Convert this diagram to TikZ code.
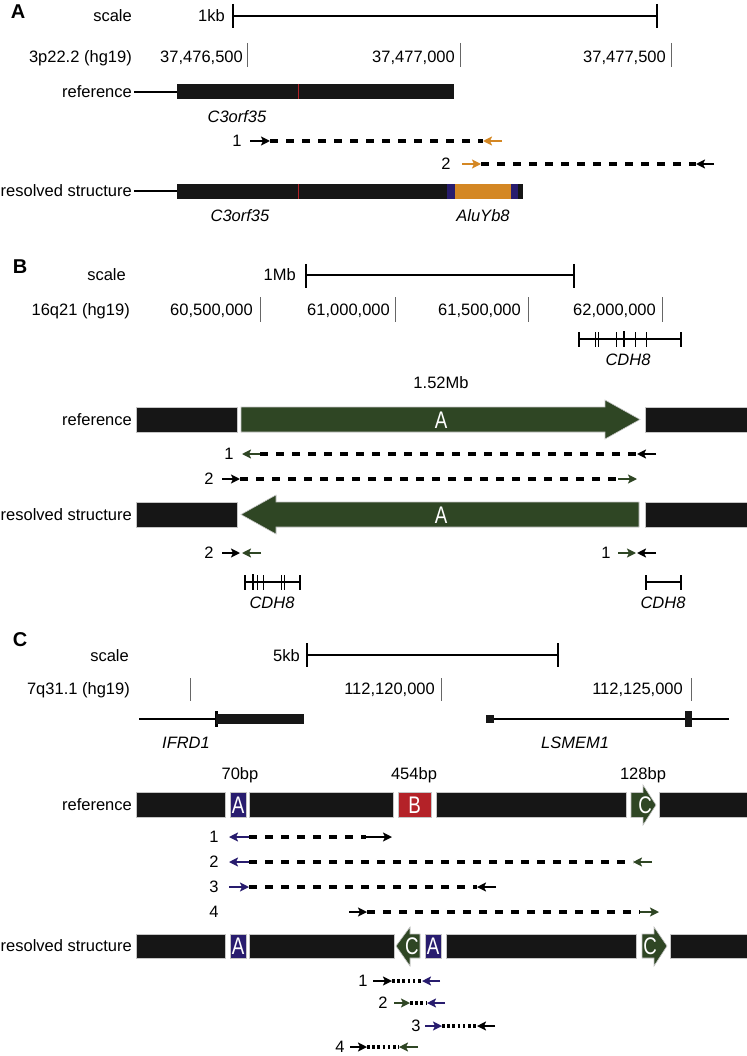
\documentclass[tikz,border=0pt]{standalone}
\usepackage{fontspec}
\usepackage{graphicx}
\setmainfont{Liberation Sans}
\usetikzlibrary{arrows.meta}
\definecolor{dgreen}{RGB}{47,70,36}
\definecolor{navyb}{RGB}{40,28,110}
\definecolor{redb}{RGB}{180,34,40}
\definecolor{orng}{RGB}{212,135,35}
\definecolor{blk}{RGB}{22,22,22}
\newcommand\condl[1]{\scalebox{0.78}[1]{#1}}
\begin{document}
\begin{tikzpicture}[x=1pt,y=-1pt,
 lbl/.style={inner sep=0pt, text height=11.8pt, text depth=0pt, font=\fontsize{16.5}{18}\selectfont},
 gene/.style={lbl, font=\fontsize{16.5}{18}\selectfont\itshape},
 panel/.style={inner sep=0pt, text height=14pt, text depth=0pt, font=\fontsize{20}{22}\selectfont\bfseries},
 inlbl/.style={inner sep=0pt, text height=17pt, text depth=0pt, text=white, font=\fontsize{24}{26}\selectfont},
 seg/.style={fill=blk, draw=gray!45, line width=0.6pt},
 sbar/.style={line width=2.6pt, black},
 tick/.style={line width=1pt, gray!80!black},
 ar/.style={line width=2.7pt, -{Stealth[length=9pt,width=9pt,inset=2pt]}},
 dsh/.style={line width=3.3pt, dash pattern=on 8pt off 8pt, black},
 dtt/.style={line width=3.3pt, dash pattern=on 2.6pt off 2.6pt, black},
 gline/.style={line width=2.6pt, black},
]
\useasboundingbox (0,0) rectangle (746,1056);

% ================= Panel A =================
\node[panel] (pA) at (18,12) {A};
\node[lbl,anchor=east] (sA) at (132,16) {scale};
\node[lbl,anchor=east] (kbA) at (225,16) {1kb};
\draw[sbar] (233,16) -- (657,16);
\draw[sbar] (233,4) -- (233,28);
\draw[sbar] (657,4) -- (657,28);
\node[lbl,anchor=east] (cA) at (132,57) {3p22.2 (hg19)};
\node[lbl,anchor=east] (a1) at (243,57) {37,476,500}; \draw[tick] (247,43) -- (247,67);
\node[lbl,anchor=east] (a2) at (455,57) {37,477,000}; \draw[tick] (460,43) -- (460,67);
\node[lbl,anchor=east] (a3) at (666,57) {37,477,500}; \draw[tick] (671,43) -- (671,67);

\node[lbl,anchor=east] (refA) at (132,92) {reference};
\draw[line width=2.4pt] (134,92) -- (177,92);
\fill[blk] (177,84) rectangle (454,99);
\draw[redb, line width=1pt] (298,84) -- (298,99);
\node[gene] (gA1) at (237,117) {C3orf35};

\node[lbl] (nA1) at (237,141) {1};
\draw[ar,black] (250,141) -- (270,141);
\draw[dsh] (270,141) -- (483,141);
\draw[ar,orng] (502,141) -- (483,141);
\node[lbl] (nA2) at (446,164) {2};
\draw[ar,orng] (462,164) -- (481,164);
\draw[dsh] (481,164) -- (696,164);
\draw[ar,black] (714,164) -- (696,164);

\node[lbl,anchor=east] (resA) at (132,191) {resolved structure};
\draw[line width=2.4pt] (134,191) -- (177,191);
\fill[blk] (177,184) rectangle (523,199);
\draw[redb, line width=1pt] (298,184) -- (298,199);
\fill[navyb] (447,184) rectangle (455,199);
\fill[orng] (455,184) rectangle (511,199);
\fill[navyb] (511,184) rectangle (518,199);
\node[gene] (gA2) at (240,216) {C3orf35};
\node[gene] (gA3) at (483,216) {AluYb8};

% ================= Panel B =================
\node[panel] (pB) at (20,266) {B};
\node[lbl,anchor=east] (sB) at (126,275) {scale};
\node[lbl,anchor=east] (kbB) at (296,275) {1Mb};
\draw[sbar] (306,275) -- (574,275);
\draw[sbar] (306,264) -- (306,288);
\draw[sbar] (574,264) -- (574,288);
\node[lbl,anchor=east] (cB) at (130,310) {16q21 (hg19)};
\node[lbl,anchor=east] (b1) at (253,310) {60,500,000}; \draw[tick] (260,297) -- (260,322);
\node[lbl,anchor=east] (b2) at (390,310) {61,000,000}; \draw[tick] (395,297) -- (395,322);
\node[lbl,anchor=east] (b3) at (521,310) {61,500,000}; \draw[tick] (528,297) -- (528,322);
\node[lbl,anchor=east] (b4) at (656,310) {62,000,000}; \draw[tick] (662,297) -- (662,322);

% CDH8 top glyph
\draw[gline] (579,339) -- (681,339);
\foreach \xx in {579,681} \draw[line width=1.4pt] (\xx,332) -- (\xx,347);
\foreach \xx in {595,598,616,635,646} \draw[line width=0.8pt] (\xx,332) -- (\xx,347);
\draw[line width=2.8pt] (624,331) -- (624,347);
\node[gene] (gB1) at (628,360) {CDH8};

\node[lbl] (mb) at (441,383) {1.52Mb};

\node[lbl,anchor=east] (refB) at (132,420) {reference};
\draw[seg] (136,407) rectangle (237,432);
\draw[fill=dgreen, draw=gray!45, line width=0.6pt] (241,407) -- (605,407) -- (605,400) -- (640,419.5) -- (605,439) -- (605,432) -- (241,432) -- cycle;
\node[inlbl] (AB1) at (441,420) {\condl{A}};
\draw[seg] (645,407) rectangle (748,432);

\node[lbl] (nB1) at (229,454) {1};
\draw[ar,dgreen] (260,454) -- (242,454);
\draw[dsh] (260,454) -- (637,454);
\draw[ar,black] (656,454) -- (637,454);
\node[lbl] (nB2) at (209,479) {2};
\draw[ar,black] (222,479) -- (240,479);
\draw[dsh] (240,479) -- (618,479);
\draw[ar,dgreen] (618,479) -- (637,479);

\node[lbl,anchor=east] (resB) at (132,515) {resolved structure};
\draw[seg] (136,502) rectangle (237,527);
\draw[fill=dgreen, draw=gray!45, line width=0.6pt] (639,502) -- (276,502) -- (276,495) -- (241,514.5) -- (276,534) -- (276,527) -- (639,527) -- cycle;
\node[inlbl] (AB2) at (441,515) {\condl{A}};
\draw[seg] (645,502) rectangle (748,527);

\node[lbl] (nB3) at (209,553) {2};
\draw[ar,black] (222,553) -- (240,553);
\draw[ar,dgreen] (261,553) -- (242,553);
\node[lbl] (nB4) at (606,553) {1};
\draw[ar,dgreen] (618,553) -- (636,553);
\draw[ar,black] (656,553) -- (637,553);

% CDH8 lower glyphs
\draw[gline] (245,582) -- (300,582);
\foreach \xx in {245,300} \draw[line width=1.4pt] (\xx,575) -- (\xx,590);
\foreach \xx in {257,263,281,284} \draw[line width=0.8pt] (\xx,575) -- (\xx,590);
\draw[line width=2.8pt] (253,574) -- (253,590);
\node[gene] (gB2) at (272,603) {CDH8};
\draw[gline] (646,582) -- (681,582);
\foreach \xx in {646,681} \draw[line width=1.4pt] (\xx,575) -- (\xx,590);
\node[gene] (gB3) at (663,603) {CDH8};

% ================= Panel C =================
\node[panel] (pC) at (20,639) {C};
\node[lbl,anchor=east] (sC) at (129,656) {scale};
\node[lbl,anchor=east] (kbC) at (300,656) {5kb};
\draw[sbar] (307,655) -- (558,655);
\draw[sbar] (307,643) -- (307,667);
\draw[sbar] (558,643) -- (558,667);
\node[lbl,anchor=east] (cC) at (130,689) {7q31.1 (hg19)};
\draw[tick] (190,678) -- (190,701);
\node[lbl,anchor=east] (c2) at (435,689) {112,120,000}; \draw[tick] (441,678) -- (441,701);
\node[lbl,anchor=east] (c3) at (683,689) {112,125,000}; \draw[tick] (691,678) -- (691,701);

% IFRD1
\draw[line width=2.2pt] (139,719) -- (216,719);
\draw[line width=3pt] (216,711) -- (216,727);
\fill[blk] (216,714) rectangle (304,724);
\node[gene] (gC1) at (186,743) {IFRD1};
% LSMEM1
\draw[line width=2.2pt] (490,719) -- (729,719);
\fill[blk] (486,715) rectangle (494,723);
\fill[blk] (685,711) rectangle (692,727);
\node[gene] (gC2) at (575,743) {LSMEM1};

\node[lbl] (bp1) at (240,774) {70bp};
\node[lbl] (bp2) at (414,774) {454bp};
\node[lbl] (bp3) at (643,774) {128bp};

\node[lbl,anchor=east] (refC) at (132,805) {reference};
\draw[seg] (136,792.5) rectangle (225,817.5);
\draw[fill=navyb, draw=gray!45, line width=0.6pt] (230,792.5) rectangle (246,817.5);
\node[inlbl] at (238,805) {\condl{A}};
\draw[seg] (249,792.5) rectangle (393,817.5);
\draw[fill=redb, draw=gray!45, line width=0.6pt] (398,792.5) rectangle (431,817.5);
\node[inlbl] at (414.5,805) {\condl{B}};
\draw[seg] (436,792.5) rectangle (626,817.5);
\draw[fill=dgreen, draw=gray!45, line width=0.6pt] (631,792.5) -- (643,792.5) -- (643,785) -- (656,805) -- (643,825) -- (643,817.5) -- (631,817.5) -- cycle;
\node[inlbl] at (645,805) {\condl{C}};
\draw[seg] (659,792.5) rectangle (748,817.5);

\node[lbl] (r1) at (214,837) {1};
\draw[ar,navyb] (249,837) -- (229,837);
\draw[dsh] (249,837) -- (366,837);
\draw[ar,black] (366,837) -- (392,837);
\node[lbl] (r2) at (214,862) {2};
\draw[ar,navyb] (249,862) -- (229,862);
\draw[dsh] (249,862) -- (633,862);
\draw[ar,dgreen] (652,862) -- (633,862);
\node[lbl] (r3) at (214,887) {3};
\draw[ar,navyb] (229,887) -- (249,887);
\draw[dsh] (249,887) -- (477,887);
\draw[ar,black] (496,887) -- (477,887);
\node[lbl] (r4) at (214,912) {4};
\draw[ar,black] (349,912) -- (367,912);
\draw[dsh] (367,912) -- (640,912);
\draw[ar,dgreen] (640,912) -- (659,912);

\node[lbl,anchor=east] (resC) at (132,946) {resolved structure};
\draw[seg] (136,934) rectangle (225,958);
\draw[fill=navyb, draw=gray!45, line width=0.6pt] (230,934) rectangle (246,958);
\node[inlbl] at (238,946) {\condl{A}};
\draw[seg] (249,934) rectangle (394,958);
\draw[fill=dgreen, draw=gray!45, line width=0.6pt] (420,934) -- (410,934) -- (410,927) -- (396,946) -- (410,966) -- (410,958) -- (420,958) -- cycle;
\node[inlbl] at (412,946) {\condl{C}};
\draw[fill=navyb, draw=gray!45, line width=0.6pt] (425,934) rectangle (441,958);
\node[inlbl] at (433,946) {\condl{A}};
\draw[seg] (446,934) rectangle (636,958);
\draw[fill=dgreen, draw=gray!45, line width=0.6pt] (642,934) -- (654,934) -- (654,927) -- (667,946) -- (654,966) -- (654,958) -- (642,958) -- cycle;
\node[inlbl] at (650,946) {\condl{C}};
\draw[seg] (670,934) rectangle (748,958);

\node[lbl] (s1) at (363,981) {1};
\draw[ar,black] (373,981) -- (392,981);
\draw[dtt] (392,981) -- (422,981);
\draw[ar,navyb] (440,981) -- (422,981);
\node[lbl] (s2) at (383,1003) {2};
\draw[ar,dgreen] (394,1003) -- (410,1003);
\draw[dtt] (410,1003) -- (427,1003);
\draw[ar,navyb] (445,1003) -- (427,1003);
\node[lbl] (s3) at (416,1026) {3};
\draw[ar,navyb] (425,1026) -- (442,1026);
\draw[dtt] (442,1026) -- (477,1026);
\draw[ar,black] (495,1026) -- (477,1026);
\node[lbl] (s4) at (340,1047) {4};
\draw[ar,black] (350,1047) -- (367,1047);
\draw[dtt] (367,1047) -- (399,1047);
\draw[ar,dgreen] (418,1047) -- (399,1047);
\end{tikzpicture}
\end{document}
